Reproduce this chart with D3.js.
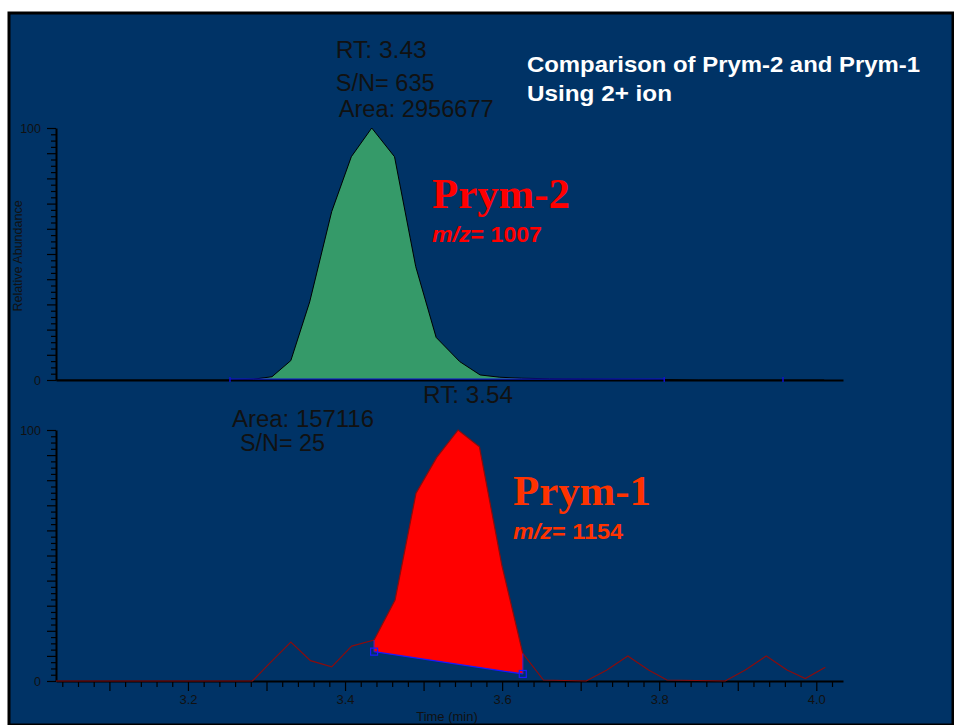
<!DOCTYPE html>
<html>
<head>
<meta charset="utf-8">
<script src="https://cdn.jsdelivr.net/npm/d3@7"></script>
<style>
  html, body { margin: 0; padding: 0; background: #ffffff; }
  svg { display: block; font-family: "Liberation Sans", Arial, sans-serif; }
</style>
</head>
<body>
<svg id="chart" width="954" height="725"></svg>
<script>
// Retention time axis (min) and tick labels
const timeTicks = [3.2, 3.4, 3.6, 3.8, 4.0];
const yTickLabels = [0, 100];

// Prym-2 chromatogram, m/z 1007 (relative abundance, %)
const prym2Time = [3.032, 3.253, 3.283, 3.307, 3.331, 3.355, 3.383, 3.408, 3.434, 3.463, 3.490, 3.516, 3.546, 3.572, 3.597, 3.625, 3.660, 3.700, 3.750, 3.806, 3.850, 4.010];
const prym2Abund = [0, 0, 0.3, 1.3, 7.7, 31, 66.8, 88.6, 100, 88.6, 45, 16.9, 7.3, 2.0, 1.1, 0.7, 0.5, 0.4, 0.3, 0.2, 0, 0];
const prym2Window = [3.2535, 3.8064];   // integration start / end
const prym2Marks = [3.2535, 3.8064, 3.9576];

// Prym-1 chromatogram, m/z 1154 (relative abundance, %)
const prym1Time = [3.032, 3.282, 3.302, 3.331, 3.356, 3.383, 3.4085, 3.437, 3.4637, 3.4904, 3.5168, 3.544, 3.5711, 3.5996, 3.6263, 3.6526, 3.707, 3.7334, 3.760, 3.7864, 3.8098, 3.884, 3.9096, 3.9363, 3.9627, 3.986, 4.0115];
const prym1Abund = [0, 0, 6.4, 15.5, 8.1, 5.6, 13.9, 16.3, 32.3, 74.8, 89.1, 100, 93.3, 46.2, 11.0, 0.4, 0, 4.4, 10, 4.4, 0.4, 0, 4.4, 10, 4.4, 1.0, 5.5];
const prym1Window = [3.437, 3.6263];
const prym1BaseLevel = [11.7, 2.8];      // integration baseline at start / end

// Peak annotations
const prym2Peak = { rt: 3.43, sn: 635, area: 2956677, label: "Prym-2", mz: 1007 };
const prym1Peak = { rt: 3.54, sn: 25, area: 157116, label: "Prym-1", mz: 1154 };

const svg = d3.select("#chart");
const W = 954, H = 725;

// Background panel with dark frame
svg.append("rect").attr("x", 9).attr("y", 13).attr("width", W - 10).attr("height", H - 13)
  .attr("fill", "#003366").attr("stroke", "#000").attr("stroke-width", 3);

const x = d3.scaleLinear().domain([3.032, 4.034]).range([56, 843]);
const yTop = d3.scaleLinear().domain([0, 100]).range([380, 128]);
const yBot = d3.scaleLinear().domain([0, 100]).range([681, 430]);

const txt = "#111";

function yAxis(scale) {
  const ticks = d3.range(0, 100.01, 2.5);
  const g = svg.append("g").attr("transform", `translate(${x.range()[0]},0)`)
    .call(d3.axisLeft(scale).tickValues(ticks).tickSize(5).tickSizeOuter(0)
      .tickFormat(d => yTickLabels.includes(d) ? d : ""));
  g.select(".domain").attr("stroke", "#000").attr("stroke-width", 2);
  g.selectAll(".tick line").attr("stroke", "#000").attr("stroke-width", 1.2)
    .attr("x2", d => (d % 10 === 0 ? -9 : -5));
  g.selectAll(".tick text").attr("fill", txt).attr("font-size", 12.5)
    .attr("font-family", "Liberation Sans, Arial, sans-serif").attr("x", -15);
  return g;
}

// ---------- Top panel: Prym-2 ----------
yAxis(yTop);
const topX = svg.append("g").attr("transform", `translate(0,${yTop(0)})`)
  .call(d3.axisBottom(x).tickValues([]).tickSizeOuter(0));
topX.select(".domain").attr("stroke", "#000").attr("stroke-width", 2);

const p2 = prym2Time.map((t, i) => ({ t, v: prym2Abund[i] }));
const p2In = p2.filter(d => d.t >= prym2Window[0] && d.t <= prym2Window[1]);

svg.append("path").datum(p2In)
  .attr("d", d3.area().x(d => x(d.t)).y0(yTop(0) - 1).y1(d => yTop(d.v)))
  .attr("fill", "#359A69");
svg.append("path").datum(p2)
  .attr("d", d3.line().x(d => x(d.t)).y(d => yTop(d.v)))
  .attr("fill", "none").attr("stroke", "#000").attr("stroke-width", 1);

// integration baseline and markers
svg.append("line").attr("x1", x(prym2Window[0])).attr("x2", x(prym2Window[1]))
  .attr("y1", yTop(0) - 1).attr("y2", yTop(0) - 1).attr("stroke", "#1010d0").attr("stroke-width", 1.2);
svg.selectAll(".m2").data(prym2Marks).enter().append("line")
  .attr("x1", d => x(d)).attr("x2", d => x(d))
  .attr("y1", yTop(0) - 3).attr("y2", yTop(0) + 2).attr("stroke", "#1010d0").attr("stroke-width", 1.5);

// ---------- Bottom panel: Prym-1 ----------
yAxis(yBot);
const minorT = d3.range(0, 51).map(i => +(3.04 + i * 0.02).toFixed(2)).filter(t => t <= 4.034);
const botX = svg.append("g").attr("transform", `translate(0,${yBot(0)})`)
  .call(d3.axisBottom(x).tickValues(minorT).tickSize(6).tickSizeOuter(0)
    .tickFormat(d => timeTicks.some(t => Math.abs(t - d) < 1e-6) ? d3.format(".1f")(d) : ""));
botX.select(".domain").attr("stroke", "#000").attr("stroke-width", 2);
botX.selectAll(".tick line").attr("stroke", "#000").attr("stroke-width", 1.2)
  .attr("y2", d => (Math.abs(d * 10 - Math.round(d * 10)) < 1e-6 ? 10 : 6));
botX.selectAll(".tick text").attr("fill", txt).attr("font-size", 13)
  .attr("font-family", "Liberation Sans, Arial, sans-serif").attr("y", 14);

svg.append("text").attr("x", 447).attr("y", 721).attr("text-anchor", "middle")
  .attr("fill", txt).attr("font-size", 13).text("Time (min)");

const p1 = prym1Time.map((t, i) => ({ t, v: prym1Abund[i] }));
const p1In = p1.filter(d => d.t >= prym1Window[0] - 1e-9 && d.t <= prym1Window[1] + 1e-9);
const b0 = { t: prym1Window[0], v: prym1BaseLevel[0] };
const b1 = { t: prym1Window[1], v: prym1BaseLevel[1] };
const poly = p1In.concat([b1, b0]);

svg.append("path").datum(poly)
  .attr("d", d3.line().x(d => x(d.t)).y(d => yBot(d.v)).curve(d3.curveLinearClosed))
  .attr("fill", "#ff0000");
svg.append("path").datum(p1)
  .attr("d", d3.line().x(d => x(d.t)).y(d => yBot(d.v)))
  .attr("fill", "none").attr("stroke", "#8a0c0c").attr("stroke-width", 1.2);

// integration baseline, drop lines and end markers
const blue = "#1a1aff";
svg.append("line").attr("x1", x(b0.t)).attr("y1", yBot(b0.v)).attr("x2", x(b1.t)).attr("y2", yBot(b1.v))
  .attr("stroke", blue).attr("stroke-width", 1.3);
[[b0, prym1Abund[prym1Time.indexOf(prym1Window[0])]], [b1, prym1Abund[prym1Time.indexOf(prym1Window[1])]]]
  .forEach(([b, top]) => {
    svg.append("line").attr("x1", x(b.t)).attr("x2", x(b.t)).attr("y1", yBot(top)).attr("y2", yBot(b.v))
      .attr("stroke", "#6a1aa0").attr("stroke-width", 1.2);
    svg.append("rect").attr("x", x(b.t) - 3.5).attr("y", yBot(b.v) - 3.5).attr("width", 7).attr("height", 7)
      .attr("fill", "none").attr("stroke", blue).attr("stroke-width", 1.2);
  });

// ---------- Annotations ----------
svg.append("text").attr("transform", "translate(22,256) rotate(-90)").attr("text-anchor", "middle")
  .attr("fill", txt).attr("font-size", 12.5).text("Relative Abundance");

// text helper; optional target width keeps wide labels at their set extent
const lab = (s, xx, yy, len) => {
  const t = svg.append("text").attr("x", xx).attr("y", yy).attr("fill", txt)
    .attr("font-size", 23).text(s);
  if (len) t.attr("textLength", len).attr("lengthAdjust", "spacingAndGlyphs");
  return t;
};

const px2 = x(3.434);
lab(`RT: ${prym2Peak.rt.toFixed(2)}`, px2 - 36, 58, 91);
lab(`S/N= ${prym2Peak.sn}`, px2 - 36, 91, 99);
lab(`Area: ${prym2Peak.area}`, px2 - 33, 117, 155);

const px1 = x(3.544);
lab(`RT: ${prym1Peak.rt.toFixed(2)}`, px1 - 35, 403, 90);
lab(`Area: ${prym1Peak.area}`, 232, 426.5, 142);
lab(`S/N= ${prym1Peak.sn}`, 240, 450.5, 85);

svg.append("text").attr("x", 527).attr("y", 72).attr("fill", "#fff").attr("font-weight", "bold")
  .attr("font-size", 22).attr("textLength", 393).attr("lengthAdjust", "spacingAndGlyphs")
  .text("Comparison of Prym-2 and Prym-1");
svg.append("text").attr("x", 527).attr("y", 101).attr("fill", "#fff").attr("font-weight", "bold")
  .attr("font-size", 22).attr("textLength", 145).attr("lengthAdjust", "spacingAndGlyphs")
  .text("Using 2+ ion");

function nameTag(peak, xx, yy, color) {
  svg.append("text").attr("x", xx).attr("y", yy).attr("fill", color)
    .attr("font-family", "Liberation Serif, 'Times New Roman', serif")
    .attr("font-weight", "bold").attr("font-size", 42).attr("textLength", 138)
    .attr("lengthAdjust", "spacingAndGlyphs").text(peak.label);
  const t = svg.append("text").attr("x", xx).attr("y", yy + 34).attr("fill", color)
    .attr("font-weight", "bold").attr("font-size", 22)
    .attr("textLength", 110).attr("lengthAdjust", "spacingAndGlyphs");
  t.append("tspan").attr("font-style", "italic").text("m/z");
  t.append("tspan").text(`= ${peak.mz}`);
}
nameTag(prym2Peak, 432, 208, "#ff0000");
nameTag(prym1Peak, 513, 505, "#ff3300");
</script>
</body>
</html>
